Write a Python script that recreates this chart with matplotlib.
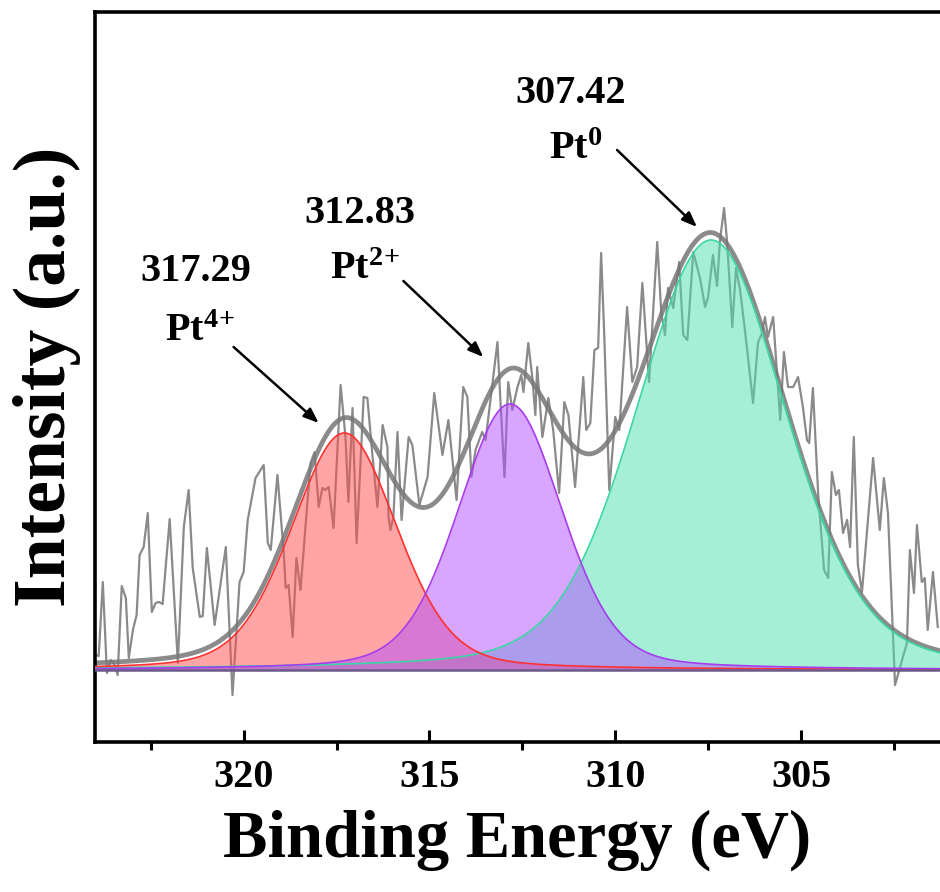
import matplotlib
matplotlib.use("Agg")
import matplotlib.pyplot as plt
import numpy as np

plt.rcParams['font.family'] = ['Liberation Serif', 'DejaVu Serif']
plt.rcParams['font.weight'] = 'bold'
plt.rcParams['mathtext.fontset'] = 'custom'
plt.rcParams['mathtext.rm'] = 'Liberation Serif:bold'
plt.rcParams['mathtext.bf'] = 'Liberation Serif:bold'
plt.rcParams['mathtext.it'] = 'Liberation Serif:bold:italic'

# raw spectrum (binding energy in eV, intensity in a.u.)
raw_be = [323.98, 323.90, 323.79, 323.68, 323.58, 323.49, 323.39, 323.28, 323.17, 323.09,
          322.98, 322.88, 322.80, 322.69, 322.58, 322.47, 322.37, 322.28, 322.18, 321.99,
          321.77, 321.61, 321.48, 321.37, 321.18, 321.10, 320.99, 320.78, 320.48, 320.30,
          320.11, 320.00, 319.89, 319.68, 319.46, 319.35, 319.27, 319.09, 318.92, 318.87,
          318.79, 318.68, 318.58, 318.47, 318.20, 318.09, 317.98, 317.88, 317.80, 317.71,
          317.58, 317.39, 317.26, 317.18, 317.07, 316.96, 316.77, 316.67, 316.53, 316.40,
          316.26, 316.13, 316.10, 316.05, 315.97, 315.86, 315.75, 315.56, 315.46, 315.27,
          315.05, 314.87, 314.65, 314.49, 314.27, 314.09, 313.98, 313.87, 313.76, 313.58,
          313.49, 313.39, 313.17, 313.09, 312.98, 312.88, 312.77, 312.63, 312.53, 312.47,
          312.34, 312.23, 312.15, 312.10, 311.96, 311.80, 311.67, 311.51, 311.37, 311.26,
          311.08, 310.86, 310.78, 310.67, 310.56, 310.46, 310.38, 310.30, 310.16, 310.00,
          309.89, 309.68, 309.54, 309.41, 309.27, 309.09, 308.87, 308.76, 308.66, 308.58,
          308.44, 308.28, 308.17, 308.06, 307.90, 307.72, 307.58, 307.50, 307.37, 307.26,
          307.18, 307.07, 306.99, 306.85, 306.75, 306.64, 306.51, 306.29, 306.16, 306.05,
          305.97, 305.89, 305.75, 305.56, 305.46, 305.35, 305.21, 305.08, 304.95, 304.84,
          304.78, 304.68, 304.54, 304.38, 304.27, 304.17, 304.06, 303.98, 303.87, 303.76,
          303.68, 303.58, 303.47, 303.36, 303.06, 302.88, 302.77, 302.66, 302.47, 302.15,
          302.07, 301.96, 301.88, 301.75, 301.67, 301.59, 301.45, 301.32]
raw_int = [15, 14, 88, -3, 10, 7, -5, 84, 72, 12,
           40, 55, 115, 123, 157, 58, 67, 68, 66, 151,
           7, 143, 180, 102, 53, 54, 122, 45, 123, -25,
           88, 98, 150, 192, 205, 127, 120, 195, 117, 82,
           85, 33, 112, 80, 207, 218, 163, 182, 180, 183,
           142, 285, 233, 168, 262, 127, 273, 272, 213, 163,
           245, 223, 153, 140, 153, 238, 150, 233, 225, 165,
           193, 277, 215, 250, 170, 283, 273, 193, 220, 238,
           230, 260, 328, 270, 193, 288, 260, 283, 295, 278,
           327, 292, 255, 303, 233, 272, 240, 177, 268, 255,
           183, 293, 240, 247, 320, 322, 417, 340, 180, 253,
           240, 363, 288, 303, 387, 288, 428, 357, 335, 382,
           362, 408, 335, 330, 418, 392, 363, 373, 415, 384,
           430, 462, 428, 343, 402, 380, 340, 267, 327, 337,
           353, 333, 353, 250, 318, 283, 283, 293, 263, 230,
           227, 282, 177, 100, 92, 198, 175, 180, 137, 150,
           123, 233, 105, 78, 212, 140, 192, 157, -15, 27,
           120, 77, 145, 88, 92, 40, 98, 43]

# fitted components (pseudo-Voigt): centre, height, FWHM
peak_charge = ["4+", "2+", "0"]
peak_center = [317.29, 312.83, 307.42]
peak_height = [237, 266, 430]
peak_fwhm = [3.35, 3.30, 4.78]
lor_frac = 0.25
peak_face = ["#ff4d4d", "#b24dff", "#4de0b0"]
peak_edge = ["#ff3030", "#a63cf0", "#3ad6a4"]
fill_order = [2, 0, 1]  # green first, purple on top

# label / arrow positions in data units
label_pos = [(321.30, 398), (316.88, 456), (311.20, 576)]
name_pos = [(321.18, 338), (316.72, 400), (311.07, 520)]
arrow_tail = [(320.27, 323), (315.70, 389), (309.95, 520)]
arrow_head = [(317.98, 247), (313.55, 313), (307.80, 443)]

x_min, x_max = 324.0, 301.26


def pvoigt(x, c, h, fwhm, m):
    u = (x - c) / (fwhm / 2.0)
    return h * (m / (1 + u ** 2) + (1 - m) * np.exp(-np.log(2) * u ** 2))


fig = plt.figure(figsize=(9.40, 8.92), dpi=100)
ax = fig.add_axes([95 / 940, 1 - 742 / 892, 1 - 95 / 940, (742 - 12) / 892])

xs = np.linspace(x_min, x_max, 1200)
comps = [pvoigt(xs, c, h, w, lor_frac) for c, h, w in zip(peak_center, peak_height, peak_fwhm)]
envelope = np.sum(comps, axis=0)

# raw data and envelope underneath the translucent fills
ax.plot(raw_be, raw_int, color="#8a8a8a", lw=1.6, zorder=1)
ax.plot(xs, envelope, color="#777777", lw=3.4, alpha=0.85, zorder=2)

for i in fill_order:
    ax.fill_between(xs, 0, comps[i], color=peak_face[i], alpha=0.5, lw=0, zorder=3)
    ax.plot(xs, comps[i], color=peak_edge[i], lw=1.2, zorder=4)

ax.plot([x_min, x_max], [0, 0], color="#6a5a8a", lw=1.8, zorder=5)

for q, c, lp, npos, t, hd in zip(peak_charge, peak_center, label_pos, name_pos, arrow_tail, arrow_head):
    ax.text(lp[0], lp[1], "%.2f" % c, fontsize=29, fontweight='bold', ha='center', va='center')
    if len(q) > 1:
        name = "Pt$^{%s}$$^{%s}$" % (q[0], q[1])
    else:
        name = "Pt$^{%s}$" % q
    ax.text(npos[0], npos[1], name, fontsize=29, ha='center', va='center')
    ax.annotate("", xy=hd, xytext=t,
                arrowprops=dict(arrowstyle="-|>,head_length=0.9,head_width=0.35",
                                color="black", lw=1.8, shrinkA=0, shrinkB=0))

ax.set_xlim(x_min, x_max)
ax.set_ylim(-72, 658)
ax.set_xticks([320, 315, 310, 305])
ax.set_xticks([322.5, 317.5, 312.5, 307.5, 302.5], minor=True)
ax.tick_params(axis='x', which='major', direction='in', length=9, width=2.2,
               labelsize=29, pad=12)
ax.tick_params(axis='x', which='minor', direction='out', length=6, width=2.2)
ax.set_yticks([])
for lab in ax.get_xticklabels():
    lab.set_fontweight('bold')

for s in ['left', 'bottom', 'top']:
    ax.spines[s].set_linewidth(2.6)
ax.spines['right'].set_visible(False)

ax.set_xlabel("Binding Energy (eV)", fontsize=48, fontweight='bold', labelpad=10)
ax.set_ylabel("Intensity (a.u.)", fontsize=53, fontweight='bold', labelpad=10)

fig.savefig("out.png", dpi=100)
